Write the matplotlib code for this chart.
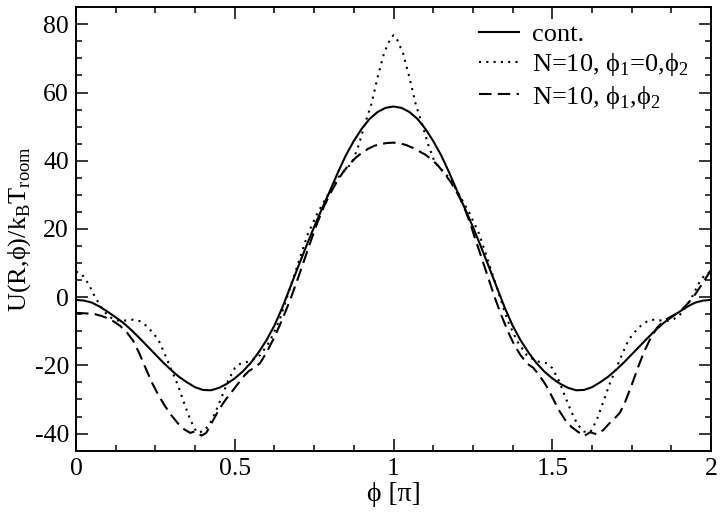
import matplotlib
matplotlib.use("Agg")
import matplotlib.pyplot as plt
from matplotlib.ticker import MultipleLocator

plt.rcParams['font.family'] = ['Liberation Serif', 'DejaVu Serif']
plt.rcParams['mathtext.fontset'] = 'custom'
plt.rcParams['mathtext.rm'] = 'Liberation Serif'
plt.rcParams['axes.unicode_minus'] = False

# continuum curve
x_cont = [0.0, 0.025, 0.05, 0.075, 0.1, 0.125, 0.15, 0.175, 0.2, 0.225,
          0.25, 0.275, 0.3, 0.325, 0.35, 0.375, 0.4, 0.425, 0.45, 0.475,
          0.5, 0.525, 0.55, 0.575, 0.6, 0.625, 0.65, 0.675, 0.7, 0.725,
          0.75, 0.775, 0.8, 0.825, 0.85, 0.875, 0.9, 0.925, 0.95, 0.975,
          1.0, 1.025, 1.05, 1.075, 1.1, 1.125, 1.15, 1.175, 1.2, 1.225,
          1.25, 1.275, 1.3, 1.325, 1.35, 1.375, 1.4, 1.425, 1.45, 1.475,
          1.5, 1.525, 1.55, 1.575, 1.6, 1.625, 1.65, 1.675, 1.7, 1.725,
          1.75, 1.775, 1.8, 1.825, 1.85, 1.875, 1.9, 1.925, 1.95, 1.975, 2.0]
u_cont = [-0.8, -1.0, -1.6, -2.8, -4.3, -5.9, -7.6, -9.7, -12.0, -14.4,
          -16.8, -19.2, -21.4, -23.4, -25.0, -26.4, -27.2, -27.3, -26.6, -25.4,
          -23.8, -21.8, -19.3, -16.2, -12.6, -8.3, -3.0, 3.0, 9.0, 14.9,
          20.6, 26.0, 31.2, 36.6, 41.6, 45.8, 49.4, 52.3, 54.3, 55.5,
          55.9, 55.5, 54.3, 52.3, 49.4, 45.8, 41.6, 36.6, 31.2, 26.0,
          20.6, 14.9, 9.0, 3.0, -3.0, -8.3, -12.6, -16.2, -19.3, -21.8,
          -23.8, -25.4, -26.6, -27.3, -27.2, -26.4, -25.0, -23.4, -21.4, -19.2,
          -16.8, -14.4, -12.0, -9.7, -7.6, -5.9, -4.3, -2.8, -1.6, -1.0, -0.8]

# N=10, phi1=0, phi2
x_dot = [0.0, 0.02, 0.04, 0.06, 0.08, 0.10, 0.12, 0.14, 0.16, 0.18, 0.20,
         0.22, 0.24, 0.26, 0.28, 0.30, 0.32, 0.34, 0.36, 0.38, 0.40,
         0.42, 0.44, 0.46, 0.48, 0.50, 0.52, 0.55, 0.58, 0.61, 0.64,
         0.67, 0.70, 0.73, 0.76, 0.79, 0.82, 0.85, 0.87, 0.89, 0.91,
         0.93, 0.95, 0.97, 0.99, 1.00,
         1.01, 1.03, 1.05, 1.07, 1.09, 1.11, 1.13, 1.15, 1.18, 1.21,
         1.24, 1.27, 1.30, 1.33, 1.36, 1.39, 1.42, 1.45, 1.48, 1.50,
         1.52, 1.54, 1.56, 1.58, 1.60, 1.62, 1.64, 1.66, 1.68, 1.70,
         1.72, 1.74, 1.76, 1.78, 1.80, 1.82, 1.84, 1.86, 1.88, 1.90,
         1.92, 1.94, 1.96, 1.98, 2.0]
u_dot = [7.5, 6.5, 3.8, 0.0, -3.0, -5.4, -6.6, -7.0, -6.8, -6.6, -7.0,
         -8.3, -10.2, -12.6, -16.8, -21.2, -25.6, -30.9, -36.0, -39.6, -39.4,
         -37.4, -33.6, -29.0, -24.3, -20.8, -19.3, -18.8, -17.0, -13.0, -7.0,
         1.5, 10.0, 18.5, 24.5, 29.5, 34.5, 37.5, 39.5, 44.5, 50.8,
         56.5, 64.5, 71.5, 75.8, 76.8,
         75.8, 71.5, 64.5, 56.5, 50.8, 44.5, 39.5, 37.5, 34.5, 29.5,
         24.5, 18.5, 10.0, 1.5, -7.0, -13.0, -17.0, -18.8, -19.3, -20.8,
         -24.3, -29.0, -33.6, -37.4, -39.4, -39.6, -36.0, -30.9, -25.6, -21.2,
         -16.8, -12.6, -10.2, -8.3, -7.0, -6.6, -6.8, -7.0, -6.6, -5.4,
         -3.0, 0.0, 3.8, 6.5, 7.5]

# N=10, phi1, phi2
x_dash = [0.0, 0.02, 0.04, 0.06, 0.08, 0.10, 0.12, 0.14, 0.16, 0.18,
          0.20, 0.22, 0.24, 0.26, 0.28, 0.30, 0.32, 0.34, 0.36, 0.375,
          0.395, 0.41, 0.43, 0.45, 0.47, 0.49, 0.51, 0.53, 0.545, 0.56,
          0.58, 0.60, 0.62, 0.64, 0.66, 0.68, 0.70, 0.72, 0.74, 0.76,
          0.78, 0.80, 0.82, 0.84, 0.86, 0.88, 0.90, 0.92, 0.94, 0.96,
          0.98, 1.00, 1.02, 1.04, 1.06, 1.08, 1.10, 1.12, 1.14, 1.16,
          1.18, 1.20, 1.22, 1.24, 1.26, 1.28, 1.30, 1.32, 1.34, 1.36,
          1.38, 1.40, 1.42, 1.44, 1.46, 1.48, 1.50, 1.52, 1.54, 1.56,
          1.58, 1.60, 1.62, 1.64, 1.66, 1.68, 1.70, 1.713, 1.73, 1.75,
          1.77, 1.79, 1.81, 1.83, 1.85, 1.87, 1.89, 1.91, 1.93, 1.95,
          1.97, 1.99, 2.0]
u_dash = [-4.6, -4.7, -4.8, -5.0, -5.5, -6.2, -7.2, -8.5, -10.3, -12.8,
          -16.6, -21.0, -25.2, -28.8, -31.9, -34.6, -36.9, -38.7, -39.8, -39.3,
          -40.6, -39.8, -36.4, -33.0, -30.2, -27.8, -25.4, -23.0, -21.6, -20.8,
          -19.3, -16.2, -12.6, -8.6, -4.2, 0.6, 5.8, 11.2, 16.6, 21.8,
          26.4, 30.3, 33.6, 36.5, 38.9, 40.8, 42.3, 43.5, 44.4, 44.9,
          45.2, 45.3, 45.1, 44.6, 43.8, 42.8, 41.8, 40.4, 38.6, 36.3,
          33.8, 30.6, 27.0, 22.0, 16.4, 10.8, 5.2, -0.4, -5.4, -10.0,
          -13.9, -17.0, -19.4, -20.7, -23.0, -25.8, -29.3, -33.0, -35.9, -38.0,
          -39.4, -40.7, -39.6, -40.2, -39.0, -37.0, -35.2, -33.9, -30.6, -25.8,
          -20.6, -15.8, -12.0, -9.0, -7.0, -5.9, -4.9, -3.5, -1.5, 0.8,
          3.6, 6.5, 8.0]

x_ticks = [0, 0.5, 1, 1.5, 2]
x_ticklabels = ['0', '0.5', '1', '1.5', '2']
y_ticks = [-40, -20, 0, 20, 40, 60, 80]

fig = plt.figure(figsize=(7.2, 5.18), dpi=100)
ax = fig.add_axes([0.1056, 0.130, 0.8819, 0.856])

ax.plot(x_cont, u_cont, color='black', lw=1.5, ls='-', label='cont.')
ax.plot(x_dot, u_dot, color='black', lw=1.5, ls=(0, (1, 2.5)),
        label='N=10, ϕ$_\\mathregular{1}$=0,ϕ$_\\mathregular{2}$')
ax.plot(x_dash, u_dash, color='black', lw=1.5, ls=(0, (6, 3)),
        label='N=10, ϕ$_\\mathregular{1}$,ϕ$_\\mathregular{2}$')

ax.set_xlim(0, 2)
ax.set_ylim(-45, 85)
ax.set_xticks(x_ticks)
ax.set_xticklabels(x_ticklabels)
ax.set_yticks(y_ticks)
ax.xaxis.set_minor_locator(MultipleLocator(0.125))
ax.yaxis.set_minor_locator(MultipleLocator(5))
ax.tick_params(which='both', direction='in', top=True, right=True,
               labelsize=18.5, width=1.1, pad=5)
ax.tick_params(which='major', length=8.5)
ax.tick_params(which='minor', length=4.3)
for s in ax.spines.values():
    s.set_linewidth(1.4)

ax.set_xlabel('ϕ [π]', fontsize=20, labelpad=2)
ax.set_ylabel('U(R,ϕ)/k$_\\mathregular{B}$T$_\\mathregular{room}$', fontsize=19, labelpad=1)

ax.legend(loc='upper right', bbox_to_anchor=(0.981, 0.989), borderaxespad=0,
          frameon=False, fontsize=19, handlelength=1.5,
          handletextpad=0.5, labelspacing=0.2)

fig.savefig('out.png', dpi=100)
